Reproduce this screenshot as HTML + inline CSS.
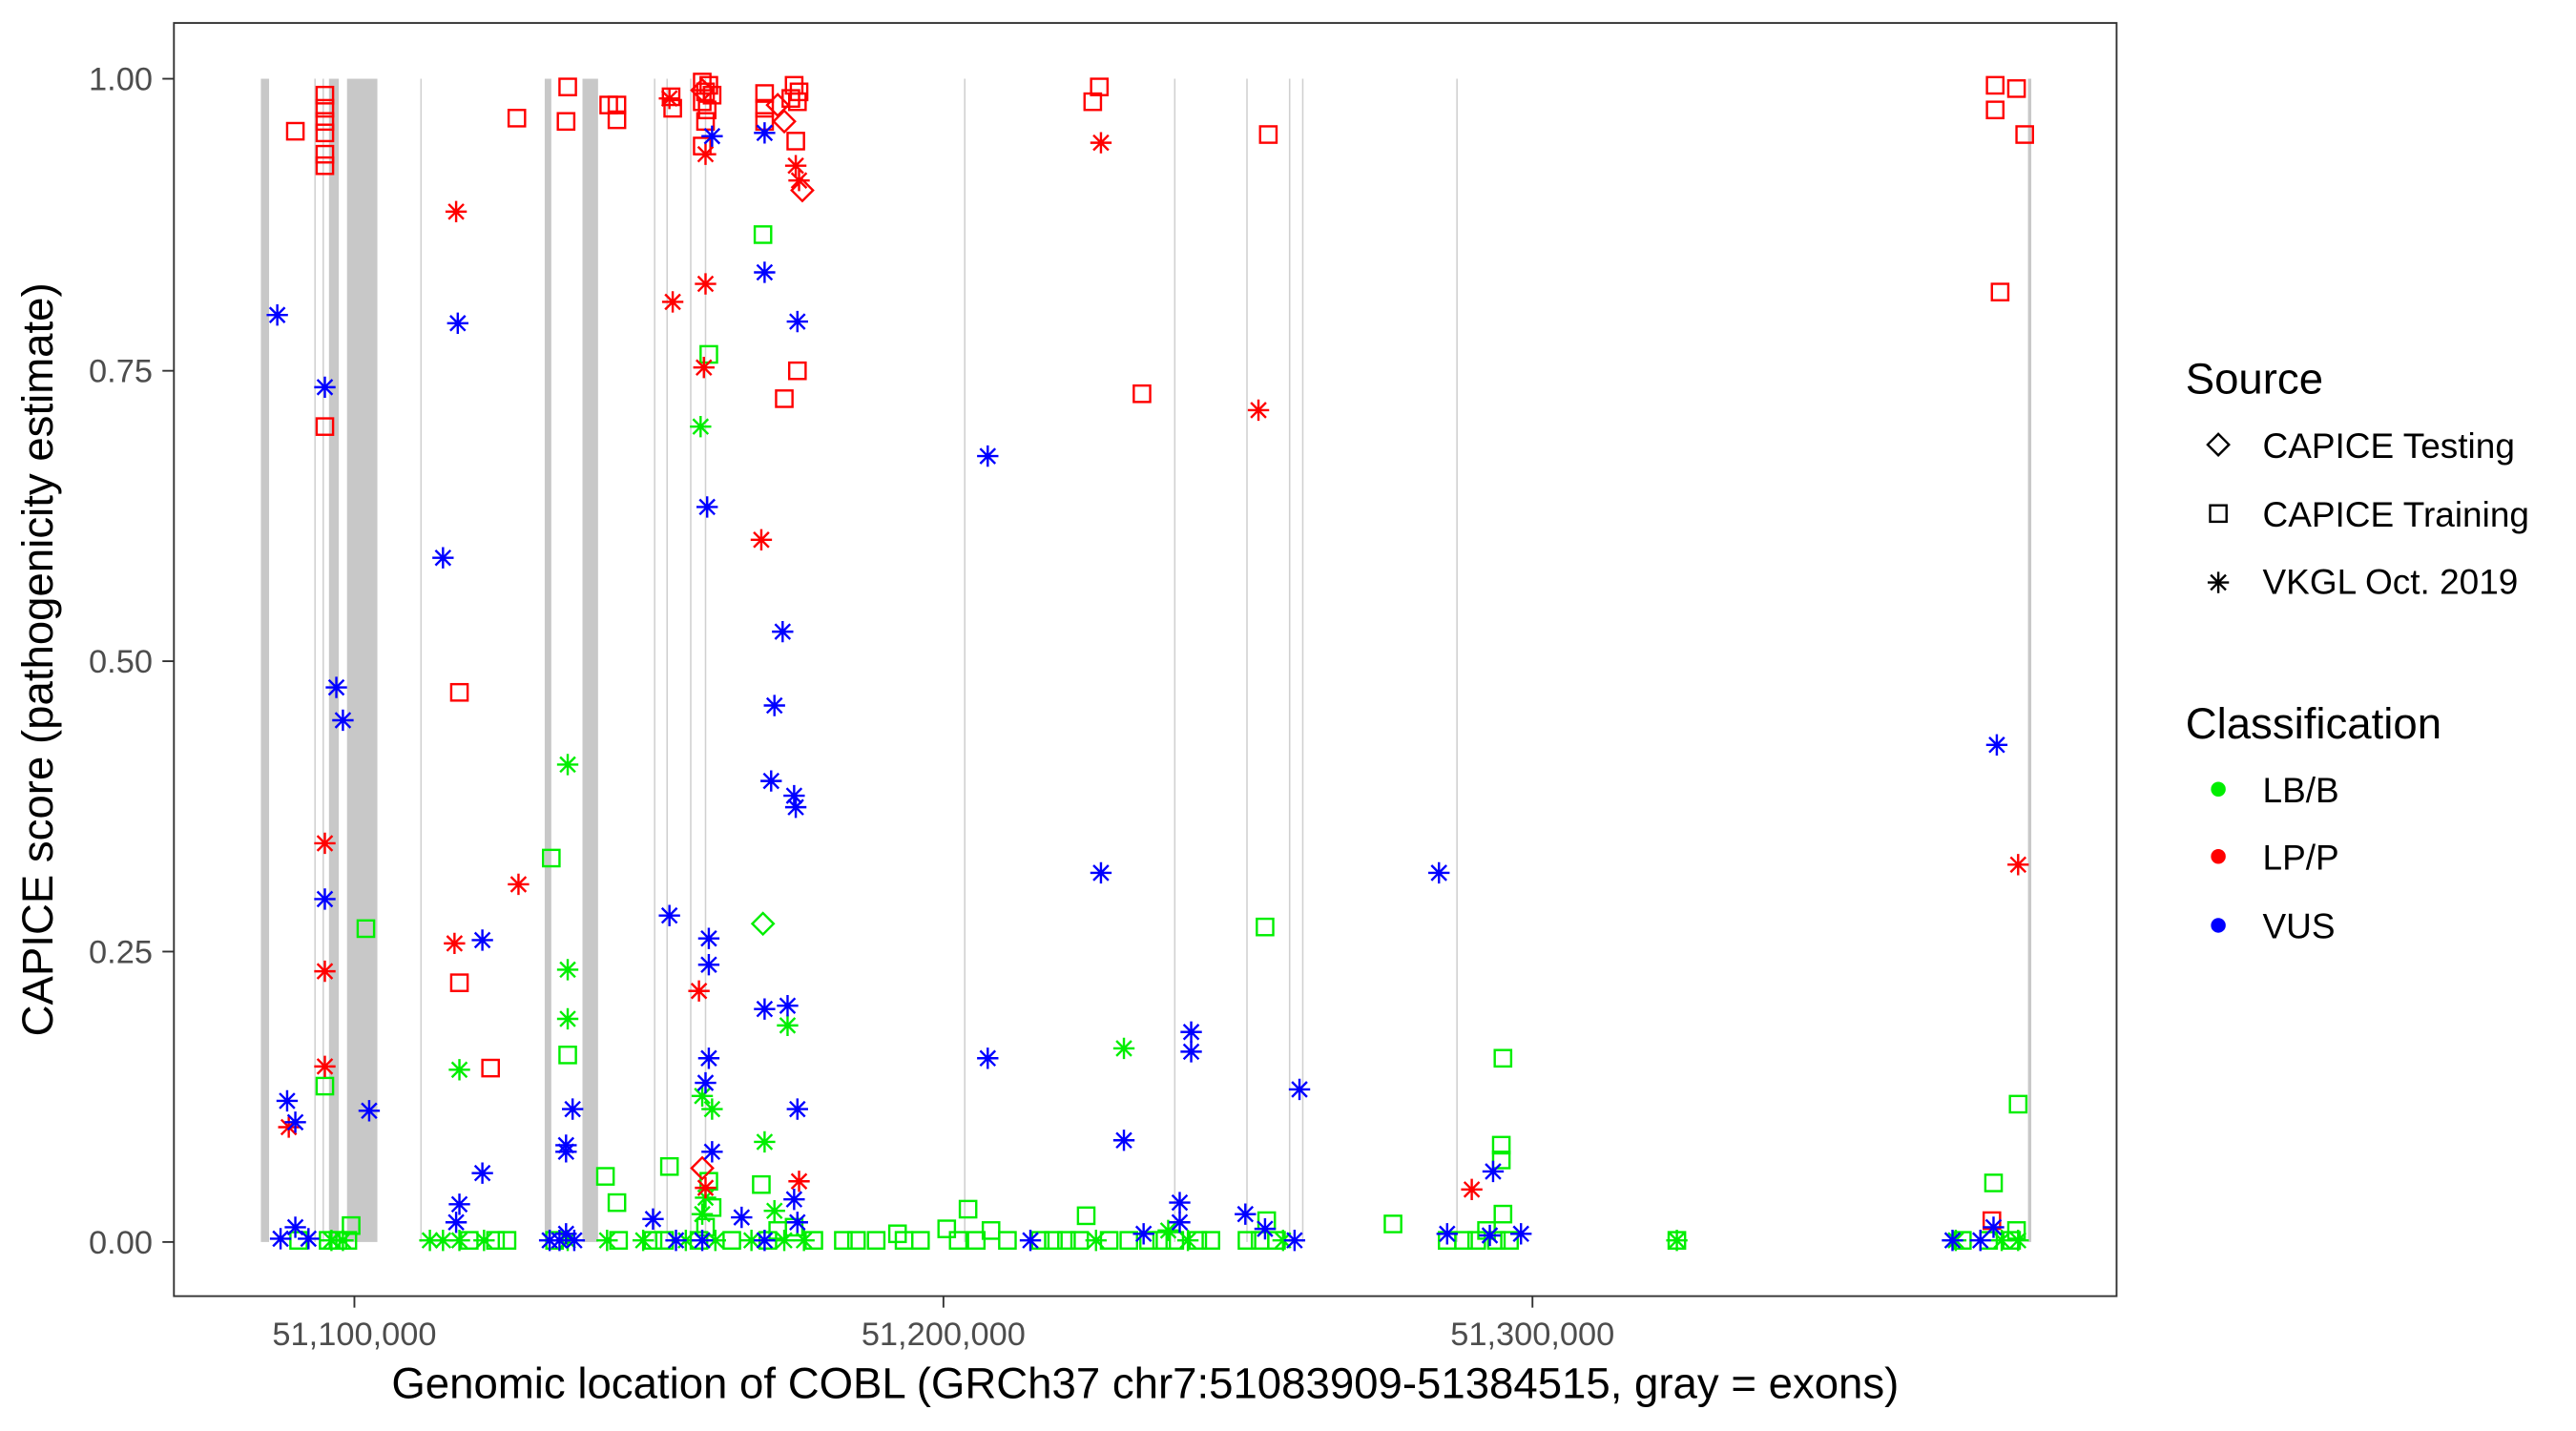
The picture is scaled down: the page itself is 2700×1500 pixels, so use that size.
<!DOCTYPE html>
<html><head><meta charset="utf-8"><style>
html,body{margin:0;padding:0;background:#fff;}
svg{display:block;}
text{font-family:"Liberation Sans",Arial,sans-serif;}
</style></head><body>
<svg width="2700" height="1500" viewBox="0 0 1570 872.2" preserveAspectRatio="none" xmlns="http://www.w3.org/2000/svg">
<defs>
<g id="s" fill="none" stroke-width="1.4"><rect x="-5" y="-5" width="10" height="10"/></g>
<g id="a" fill="none" stroke-width="1.4"><path d="M-6.5,0H6.5M0,-6.5V6.5M-4.6,-4.6L4.6,4.6M-4.6,4.6L4.6,-4.6"/></g>
<g id="d" fill="none" stroke-width="1.4"><path d="M0,-6.5L6.5,0L0,6.5L-6.5,0Z"/></g>
</defs>
<rect width="1570" height="872.2" fill="#fff"/>
<g fill="#c8c8c8">
<rect x="159" y="48" width="5" height="709"/>
<rect x="200.5" y="48" width="6" height="709"/>
<rect x="211.5" y="48" width="18.5" height="709"/>
<rect x="332" y="48" width="4" height="709"/>
<rect x="355" y="48" width="9.5" height="709"/>
</g>
<g stroke="#d0d0d0" stroke-width="0.9">
<line x1="192" y1="48" x2="192" y2="757"/><line x1="197" y1="48" x2="197" y2="757"/>
<line x1="256.6" y1="48" x2="256.6" y2="757"/><line x1="399" y1="48" x2="399" y2="757"/>
<line x1="406.6" y1="48" x2="406.6" y2="757"/><line x1="421" y1="48" x2="421" y2="757"/>
<line x1="430" y1="48" x2="430" y2="757"/><line x1="588" y1="48" x2="588" y2="757"/>
<line x1="716" y1="48" x2="716" y2="757"/><line x1="760" y1="48" x2="760" y2="757"/>
<line x1="786" y1="48" x2="786" y2="757"/><line x1="794" y1="48" x2="794" y2="757"/>
<line x1="888" y1="48" x2="888" y2="757"/>
</g>
<line x1="1237" y1="48" x2="1237" y2="757" stroke="#c8c8c8" stroke-width="2"/>
<g stroke="#00ee00">
<use href="#s" x="182" y="756"/><use href="#s" x="200" y="756"/><use href="#s" x="206" y="756"/><use href="#s" x="212" y="756"/><use href="#s" x="214" y="747"/>
<use href="#a" x="202" y="756"/><use href="#a" x="209" y="756"/>
<use href="#a" x="262" y="756"/><use href="#a" x="270" y="756"/><use href="#a" x="280" y="756"/><use href="#s" x="286" y="756"/><use href="#a" x="295" y="756"/><use href="#s" x="302" y="756"/><use href="#s" x="309" y="756"/>
<use href="#s" x="338" y="756"/><use href="#a" x="346" y="756"/><use href="#a" x="370" y="756"/><use href="#s" x="377" y="756"/>
<use href="#a" x="392" y="756"/><use href="#s" x="398" y="756"/><use href="#s" x="405" y="756"/><use href="#a" x="418" y="756"/>
<use href="#s" x="426" y="756"/><use href="#a" x="428" y="740"/><use href="#a" x="430" y="730"/><use href="#s" x="430" y="748"/><use href="#s" x="432" y="720"/><use href="#s" x="434" y="736"/><use href="#a" x="436" y="756"/>
<use href="#s" x="446" y="756"/><use href="#a" x="458" y="756"/><use href="#s" x="468" y="756"/><use href="#a" x="472" y="738"/><use href="#s" x="474" y="750"/><use href="#a" x="478" y="756"/><use href="#s" x="484" y="748"/><use href="#a" x="490" y="756"/><use href="#s" x="496" y="756"/>
<use href="#s" x="514" y="756"/><use href="#s" x="522" y="756"/><use href="#s" x="534" y="756"/><use href="#s" x="547" y="752"/><use href="#s" x="551" y="756"/><use href="#s" x="561" y="756"/>
<use href="#s" x="577" y="749"/><use href="#s" x="584" y="756"/><use href="#s" x="590" y="737"/><use href="#s" x="595" y="756"/><use href="#s" x="604" y="750"/><use href="#s" x="614" y="756"/>
<use href="#s" x="634" y="756"/><use href="#s" x="642" y="756"/><use href="#s" x="650" y="756"/><use href="#s" x="658" y="756"/><use href="#s" x="662" y="741"/><use href="#a" x="668" y="756"/><use href="#s" x="676" y="756"/>
<use href="#s" x="688" y="756"/><use href="#s" x="700" y="756"/><use href="#s" x="708" y="756"/><use href="#a" x="712" y="750"/><use href="#s" x="716" y="756"/><use href="#a" x="724" y="756"/><use href="#s" x="730" y="756"/><use href="#s" x="738" y="756"/>
<use href="#s" x="760" y="756"/><use href="#s" x="768" y="756"/><use href="#s" x="772" y="744"/><use href="#s" x="778" y="756"/><use href="#a" x="782" y="756"/>
<use href="#s" x="849" y="746"/><use href="#s" x="882" y="756"/><use href="#s" x="892" y="756"/><use href="#s" x="900" y="756"/><use href="#s" x="906" y="750"/><use href="#s" x="912" y="756"/><use href="#s" x="916" y="740"/><use href="#s" x="920" y="756"/>
<use href="#s" x="1022" y="756"/><use href="#a" x="1022" y="756"/>
<use href="#a" x="1192" y="756"/><use href="#s" x="1196" y="756"/><use href="#s" x="1212" y="756"/><use href="#a" x="1220" y="756"/><use href="#s" x="1226" y="756"/><use href="#s" x="1229" y="750"/><use href="#a" x="1230" y="756"/>
</g>
<g stroke="#00ee00">
<use href="#s" x="465" y="143"/><use href="#s" x="432" y="216"/><use href="#s" x="336" y="523"/><use href="#s" x="346" y="643"/><use href="#s" x="198" y="662"/><use href="#s" x="223" y="566"/>
<use href="#s" x="369" y="717"/><use href="#s" x="376" y="733"/><use href="#s" x="408" y="711"/><use href="#s" x="464" y="722"/><use href="#s" x="771" y="565"/>
<use href="#s" x="916" y="645"/><use href="#s" x="915" y="698"/><use href="#s" x="915" y="707"/><use href="#s" x="1215" y="721"/><use href="#s" x="1230" y="673"/>
<use href="#a" x="346" y="466"/><use href="#a" x="346" y="591"/><use href="#a" x="346" y="621"/><use href="#a" x="280" y="652"/><use href="#a" x="427" y="260"/>
<use href="#a" x="434" y="676"/><use href="#a" x="428" y="668"/><use href="#a" x="466" y="696"/><use href="#a" x="480" y="625"/><use href="#a" x="685" y="639"/>
<use href="#d" x="465" y="563"/>
</g>
<g stroke="#ff0000">
<use href="#s" x="180" y="80"/><use href="#s" x="198" y="58"/><use href="#s" x="198" y="66"/><use href="#s" x="198" y="74"/><use href="#s" x="198" y="81"/><use href="#s" x="198" y="94"/><use href="#s" x="198" y="101"/><use href="#s" x="198" y="260"/>
<use href="#s" x="280" y="422"/><use href="#s" x="280" y="599"/><use href="#s" x="299" y="651"/><use href="#s" x="315" y="72"/><use href="#s" x="346" y="53"/><use href="#s" x="345" y="74"/>
<use href="#s" x="371" y="64"/><use href="#s" x="376" y="64"/><use href="#s" x="376" y="73"/><use href="#s" x="409" y="59"/><use href="#s" x="410" y="66"/>
<use href="#s" x="428" y="50"/><use href="#s" x="432" y="52"/><use href="#s" x="430" y="56"/><use href="#s" x="434" y="58"/><use href="#s" x="428" y="62"/><use href="#s" x="431" y="67"/><use href="#s" x="430" y="74"/><use href="#s" x="428" y="89"/>
<use href="#s" x="466" y="57"/><use href="#s" x="466" y="66"/><use href="#s" x="466" y="74"/><use href="#s" x="478" y="243"/><use href="#s" x="486" y="226"/><use href="#s" x="485" y="86"/>
<use href="#s" x="484" y="52"/><use href="#s" x="487" y="56"/><use href="#s" x="482" y="60"/><use href="#s" x="486" y="62"/>
<use href="#s" x="666" y="62"/><use href="#s" x="670" y="53"/><use href="#s" x="696" y="240"/><use href="#s" x="773" y="82"/>
<use href="#s" x="1216" y="52"/><use href="#s" x="1229" y="54"/><use href="#s" x="1216" y="67"/><use href="#s" x="1234" y="82"/><use href="#s" x="1219" y="178"/><use href="#s" x="1214" y="744"/>
<use href="#a" x="278" y="129"/><use href="#a" x="277" y="575"/><use href="#a" x="316" y="539"/><use href="#a" x="198" y="514"/><use href="#a" x="198" y="592"/><use href="#a" x="198" y="650"/><use href="#a" x="176" y="687"/>
<use href="#a" x="410" y="184"/><use href="#a" x="430" y="173"/><use href="#a" x="429" y="224"/><use href="#a" x="430" y="94"/><use href="#a" x="426" y="604"/><use href="#a" x="464" y="329"/>
<use href="#a" x="485" y="101"/><use href="#a" x="487" y="110"/><use href="#a" x="487" y="720"/><use href="#a" x="671" y="87"/><use href="#a" x="767" y="250"/><use href="#a" x="897" y="725"/><use href="#a" x="1230" y="527"/><use href="#a" x="408" y="60"/><use href="#a" x="430" y="724"/>
<use href="#d" x="478" y="74"/><use href="#d" x="489" y="116"/><use href="#d" x="428" y="712"/><use href="#d" x="474" y="64"/><use href="#d" x="428" y="55"/>
</g>
<g stroke="#0000ff">
<use href="#a" x="169" y="192"/><use href="#a" x="198" y="236"/><use href="#a" x="205" y="419"/><use href="#a" x="209" y="439"/><use href="#a" x="198" y="548"/><use href="#a" x="175" y="671"/><use href="#a" x="180" y="684"/><use href="#a" x="225" y="677"/>
<use href="#a" x="180" y="748"/><use href="#a" x="171" y="755"/><use href="#a" x="188" y="755"/><use href="#a" x="270" y="340"/><use href="#a" x="279" y="197"/><use href="#a" x="294" y="573"/><use href="#a" x="294" y="715"/><use href="#a" x="280" y="734"/><use href="#a" x="278" y="745"/>
<use href="#a" x="345" y="698"/><use href="#a" x="345" y="702"/><use href="#a" x="349" y="676"/><use href="#a" x="345" y="752"/><use href="#a" x="335" y="756"/><use href="#a" x="341" y="756"/><use href="#a" x="350" y="756"/>
<use href="#a" x="408" y="558"/><use href="#a" x="398" y="743"/><use href="#a" x="412" y="756"/><use href="#a" x="432" y="572"/><use href="#a" x="432" y="588"/><use href="#a" x="432" y="645"/><use href="#a" x="430" y="660"/><use href="#a" x="434" y="702"/><use href="#a" x="431" y="309"/><use href="#a" x="434" y="83"/><use href="#a" x="428" y="756"/>
<use href="#a" x="466" y="166"/><use href="#a" x="472" y="430"/><use href="#a" x="470" y="476"/><use href="#a" x="477" y="385"/><use href="#a" x="466" y="615"/><use href="#a" x="480" y="613"/><use href="#a" x="484" y="485"/><use href="#a" x="485" y="492"/><use href="#a" x="486" y="196"/><use href="#a" x="486" y="676"/><use href="#a" x="484" y="731"/><use href="#a" x="466" y="756"/><use href="#a" x="452" y="742"/><use href="#a" x="466" y="81"/><use href="#a" x="486" y="745"/>
<use href="#a" x="602" y="278"/><use href="#a" x="602" y="645"/><use href="#a" x="628" y="756"/><use href="#a" x="671" y="532"/><use href="#a" x="685" y="695"/><use href="#a" x="697" y="752"/><use href="#a" x="719" y="745"/><use href="#a" x="719" y="733"/><use href="#a" x="726" y="629"/><use href="#a" x="726" y="641"/>
<use href="#a" x="759" y="740"/><use href="#a" x="771" y="749"/><use href="#a" x="789" y="756"/><use href="#a" x="792" y="664"/><use href="#a" x="877" y="532"/><use href="#a" x="882" y="752"/><use href="#a" x="910" y="714"/><use href="#a" x="908" y="753"/><use href="#a" x="927" y="752"/>
<use href="#a" x="1190" y="756"/><use href="#a" x="1207" y="756"/><use href="#a" x="1217" y="454"/><use href="#a" x="1215" y="748"/>
</g>
<rect x="106" y="14" width="1184" height="776" fill="none" stroke="#333" stroke-width="1.1"/>
<g stroke="#333" stroke-width="1.1">
<line x1="99" y1="48" x2="106" y2="48"/><line x1="99" y1="226" x2="106" y2="226"/><line x1="99" y1="403" x2="106" y2="403"/><line x1="99" y1="580" x2="106" y2="580"/><line x1="99" y1="757" x2="106" y2="757"/>
<line x1="216" y1="790" x2="216" y2="797"/><line x1="575" y1="790" x2="575" y2="797"/><line x1="934" y1="790" x2="934" y2="797"/>
</g>
<g font-size="20" fill="#4d4d4d" text-anchor="end">
<text x="93" y="55">1.00</text><text x="93" y="233">0.75</text><text x="93" y="410">0.50</text><text x="93" y="587">0.25</text><text x="93" y="764">0.00</text>
</g>
<g font-size="20" fill="#4d4d4d" text-anchor="middle">
<text x="216" y="820">51,100,000</text><text x="575" y="820">51,200,000</text><text x="934" y="820">51,300,000</text>
</g>
<text x="698" y="852" font-size="26.5" text-anchor="middle">Genomic location of COBL (GRCh37 chr7:51083909-51384515, gray = exons)</text>
<text transform="translate(32,402) rotate(-90)" font-size="26.5" text-anchor="middle">CAPICE score (pathogenicity estimate)</text>
<text x="1332" y="240" font-size="26.5">Source</text>
<g stroke="#000"><use href="#d" x="1352" y="271"/><use href="#s" x="1352" y="313"/><use href="#a" x="1352" y="355"/></g>
<g font-size="21.5"><text x="1379" y="279">CAPICE Testing</text><text x="1379" y="321">CAPICE Training</text><text x="1379" y="362">VKGL Oct. 2019</text></g>
<text x="1332" y="450" font-size="26.5">Classification</text>
<circle cx="1352" cy="481" r="4.5" fill="#00ee00"/><circle cx="1352" cy="522" r="4.5" fill="#ff0000"/><circle cx="1352" cy="564" r="4.5" fill="#0000ff"/>
<g font-size="21.5"><text x="1379" y="489">LB/B</text><text x="1379" y="530">LP/P</text><text x="1379" y="572">VUS</text></g>
</svg>
</body></html>
